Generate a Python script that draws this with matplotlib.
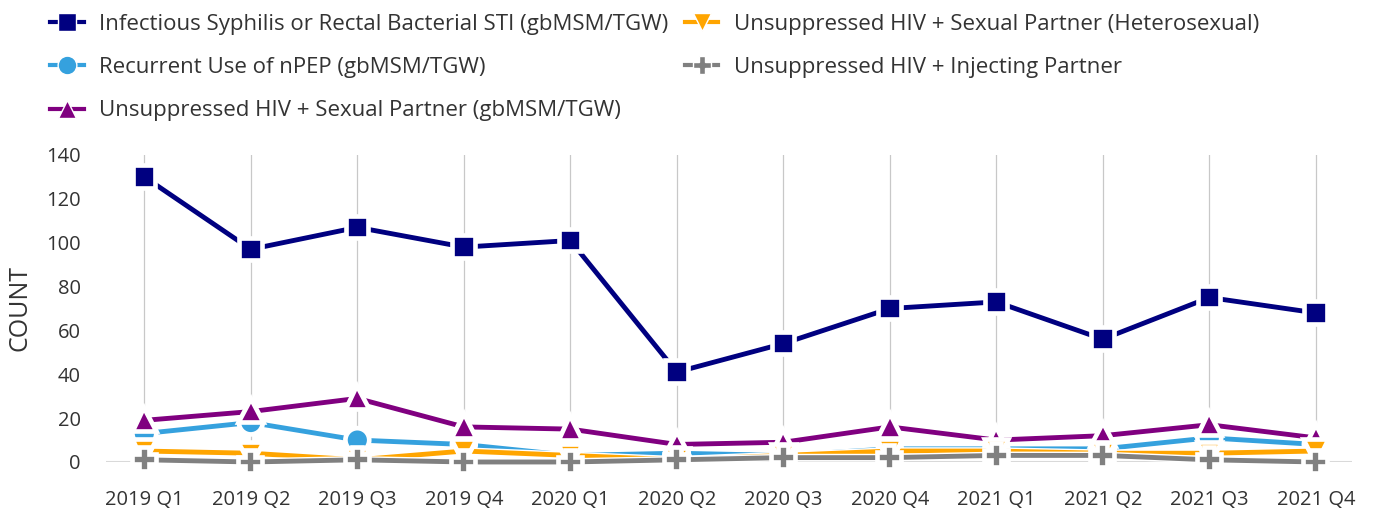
import matplotlib.pyplot as plt
import matplotlib.patheffects as pe
from matplotlib.lines import Line2D

plt.rcParams['font.family'] = ['Open Sans', 'DejaVu Sans']

quarters = ['2019 Q1', '2019 Q2', '2019 Q3', '2019 Q4', '2020 Q1', '2020 Q2',
            '2020 Q3', '2020 Q4', '2021 Q1', '2021 Q2', '2021 Q3', '2021 Q4']

syphilis = [130, 97, 107, 98, 101, 41, 54, 70, 73, 56, 75, 68]
npep = [13, 18, 10, 8, 3, 4, 3, 6, 6, 6, 11, 8]
hiv_msm = [19, 23, 29, 16, 15, 8, 9, 16, 10, 12, 17, 11]
hiv_hetero = [5, 4, 1, 5, 3, 1, 3, 5, 5, 4, 4, 5]
hiv_inject = [1, 0, 1, 0, 0, 1, 2, 2, 3, 3, 1, 0]

# label, values, colour, marker, size
series = [
    ('Infectious Syphilis or Rectal Bacterial STI (gbMSM/TGW)', syphilis, '#000080', 's', 14),
    ('Recurrent Use of nPEP (gbMSM/TGW)', npep, '#35A1DE', 'o', 15),
    ('Unsuppressed HIV + Sexual Partner (gbMSM/TGW)', hiv_msm, '#800080', '^', 14),
    ('Unsuppressed HIV + Sexual Partner (Heterosexual)', hiv_hetero, '#FFA500', 'v', 14),
    ('Unsuppressed HIV + Injecting Partner', hiv_inject, '#808080', 'P', 15),
]

fig = plt.figure(figsize=(13.73, 5.11), dpi=100)
ax = fig.add_axes([0.0772, 0.0959, 0.9075, 0.6008])

x = list(range(len(quarters)))
handles = []
for i, (label, vals, color, marker, ms) in enumerate(series):
    ax.plot(x, vals, color=color, lw=3.5, marker=marker, ms=ms,
            mec='white', mew=1.2, zorder=3 + i, clip_on=False,
            path_effects=[pe.Stroke(linewidth=5.5, foreground='white'), pe.Normal()])
    handles.append(Line2D([], [], color=color, lw=3, marker=marker, ms=ms * 0.9,
                          mec='white', mew=1, label=label))

ax.set_xlim(-0.36, len(quarters) - 1 + 0.34)
ax.set_ylim(0, 140)
ax.set_yticks(range(0, 141, 20))
ax.set_xticks(x)
ax.set_xticklabels(quarters)
ax.tick_params(length=0, labelsize=14.5, labelcolor='#333333')
ax.tick_params(axis='x', pad=20)
ax.tick_params(axis='y', pad=18)
ax.grid(axis='x', color='#c8c8c8', lw=0.9)
ax.set_axisbelow(True)
for s in ax.spines.values():
    s.set_visible(False)
ax.axhline(0, color='#d9d9d9', lw=1.5, zorder=1)
ax.set_ylabel('COUNT', fontsize=18, color='#333333', labelpad=10)

fig.legend(handles=handles, ncol=2, loc='upper left', bbox_to_anchor=(0.022, 1.012),
           frameon=False, fontsize=16, handlelength=1.5, handletextpad=0.7,
           columnspacing=0.75, labelspacing=1.0, labelcolor='#333333')

fig.savefig('out.png', dpi=100)
